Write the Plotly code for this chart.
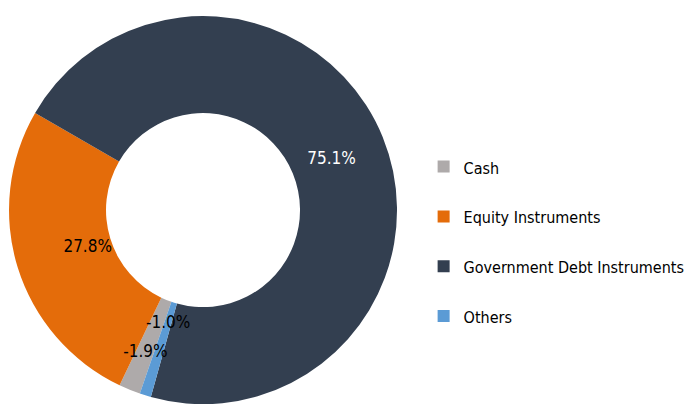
import plotly.graph_objects as go

labels = ["Cash", "Equity Instruments", "Government Debt Instruments", "Others"]
values = [-1.9, 27.8, 75.1, -1.0]
colors = ["#aeaaaa", "#e46c0a", "#333f50", "#5b9bd5"]
text_colors = ["#000000", "#000000", "#ffffff", "#000000"]

sizes = [abs(v) for v in values]
texts = [f"{v:.1f}%" for v in values]
legend_names = [f"<span style='font-size:16px'>{l}</span><br> " for l in labels]

FONT = "DejaVu Sans Condensed, Liberation Sans Narrow, Liberation Sans, sans-serif"
FS = 17
CX, CY = 0.2938, 0.490          # ring centre (paper fraction)
W, H = 691, 412


def dom(r):
    return dict(x=[CX - r / W, CX + r / W], y=[CY - r / H, CY + r / H])


def ring(text_for, r, visible):
    txt = [t if l in text_for else "" for t, l in zip(texts, labels)]
    return go.Pie(
        labels=legend_names, values=sizes, text=txt, textinfo="text",
        textposition="inside", insidetextorientation="horizontal",
        hole=0.5, sort=False, direction="clockwise", rotation=199,
        marker=dict(colors=colors if visible else ["rgba(0,0,0,0)"] * len(labels),
                    line=dict(width=0)),
        textfont=dict(color=text_colors, size=FS, family=FONT),
        domain=dom(r), hoverinfo="none", showlegend=visible,
    )


fig = go.Figure()
fig.add_trace(ring(set(), 194, True))
fig.add_trace(ring({"Government Debt Instruments"}, 185, False))
fig.add_trace(ring({"Equity Instruments", "Cash"}, 161, False))
fig.add_trace(ring({"Others"}, 121, False))

fig.update_layout(
    width=W, height=H,
    margin=dict(l=0, r=0, t=0, b=0),
    paper_bgcolor="white", plot_bgcolor="white",
    font=dict(family=FONT, color="#000000", size=FS),
    uniformtext=dict(minsize=FS, mode="show"),
    legend=dict(
        x=0.998, y=0.385, xanchor="right", yanchor="middle",
        font=dict(size=18, family=FONT, color="#000000"),
        valign="top", bgcolor="rgba(0,0,0,0)",
    ),
)

fig.write_html("out.html")
